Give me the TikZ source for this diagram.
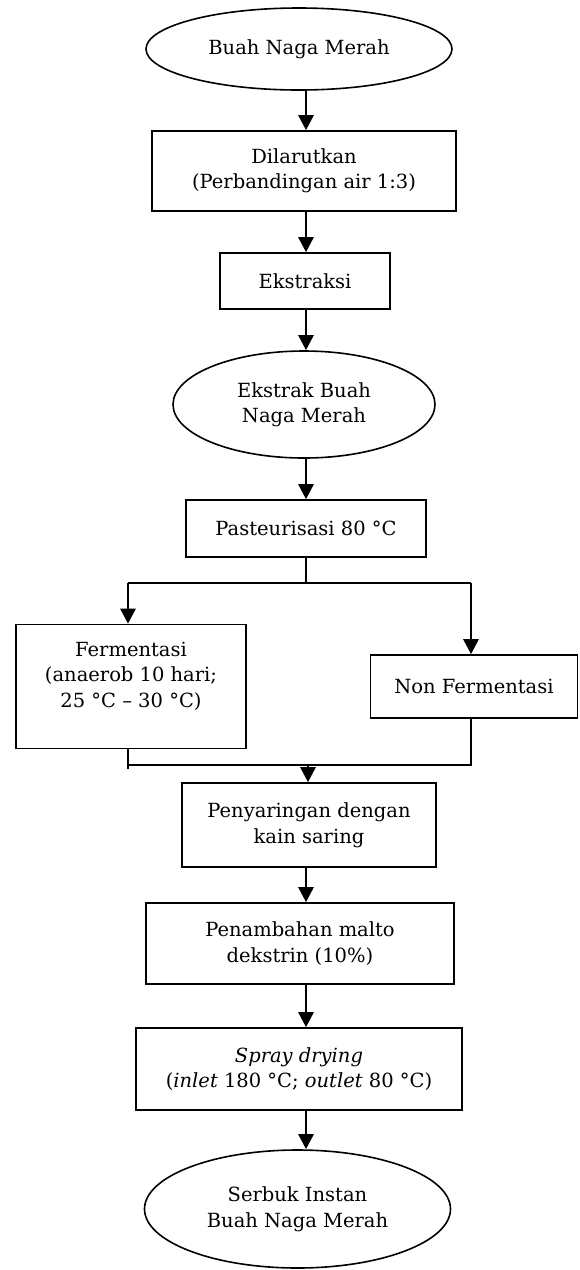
\documentclass[tikz,border=0pt]{standalone}
\usepackage{fontspec}
\setmainfont{DejaVu Serif}
\usetikzlibrary{arrows.meta,shapes}
\tikzstyle{stepbox}=[draw,line width=1.6pt,rectangle,align=center,inner sep=0pt]
\tikzstyle{endpoint}=[draw,line width=1.6pt,ellipse,align=center,inner sep=0pt]
\tikzstyle{edge}=[draw,line width=2.6pt,-{Triangle[length=15pt,width=15pt]}]
\tikzstyle{link}=[draw,line width=2pt]

\begin{document}
\begin{tikzpicture}[x=1pt,y=-1pt,font=\fontsize{19.5}{25.5}\selectfont]

    \useasboundingbox (0,0) rectangle (579,1270);
    \coordinate (axis) at (306,0);

    \foreach \pos/\name/\w/\h/\txt in {{(299,49)/buah/306/82/{Buah Naga Merah}}, {(304,404.5)/ekstrak/262/107/{Ekstrak Buah\\Naga Merah}}, {(297.5,1209)/serbuk/306/118/{Serbuk Instan\\Buah Naga Merah}}}
        \node[endpoint, minimum width=\w pt, minimum height=\h pt] (\name) at \pos {\txt};

    \foreach \pos/\name/\w/\h/\txt in {{(304,171)/larut/304/80/{Dilarutkan\\(Perbandingan air 1:3)}}, {(305,281)/ekstraksi/170/56/{Ekstraksi}}, {(306,528.5)/pasteur/240/57/{Pasteurisasi 80 °C}}, {(309,825)/saring/254/84/{Penyaringan dengan\\kain saring}}, {(300,943.5)/malto/308/81/{Penambahan malto\\dekstrin (10\%)}}, {(299,1069)/spray/326/82/{\textit{Spray drying}\\(\textit{inlet} 180 °C; \textit{outlet} 80 °C)}}}
        \node[stepbox, minimum width=\w pt, minimum height=\h pt] (\name) at \pos {\txt};

    \node[stepbox, minimum width=230pt, minimum height=124pt, text depth=24pt] (fer) at (131,686.5) {Fermentasi\\(anaerob 10 hari;\\25 °C -- 30 °C)};
    \node[stepbox, minimum width=207pt, minimum height=63pt] (nonfer) at (474,686.5) {Non Fermentasi};

    \foreach \source/ \dest in {buah/larut, larut/ekstraksi, ekstraksi/ekstrak, ekstrak/pasteur, saring/malto, malto/spray, spray/serbuk}
        \path[edge] (\source.south -| axis) -- (\dest.north -| axis);

    % cabang
    \coordinate (split) at (306,583);
    \coordinate (splitl) at (128,583);
    \coordinate (splitr) at (471,583);
    \path[link] (pasteur.south -| axis) -- (split);
    \path[link] (splitl) -- (splitr);
    \path[edge] (splitl) -- (fer.north -| splitl);
    \path[edge] (splitr) -- (nonfer.north -| splitr);

    % gabung
    \coordinate (joinl) at (128,765);
    \coordinate (joinend) at (128,769);
    \coordinate (joinr) at (471,765);
    \coordinate (joinm) at (308,765);
    \path[link] (fer.south -| joinl) -- (joinend);
    \path[link] (joinl) -- (joinr) -- (nonfer.south -| joinr);
    \path[edge] (joinm) -- (saring.north -| joinm);

\end{tikzpicture}
\end{document}
